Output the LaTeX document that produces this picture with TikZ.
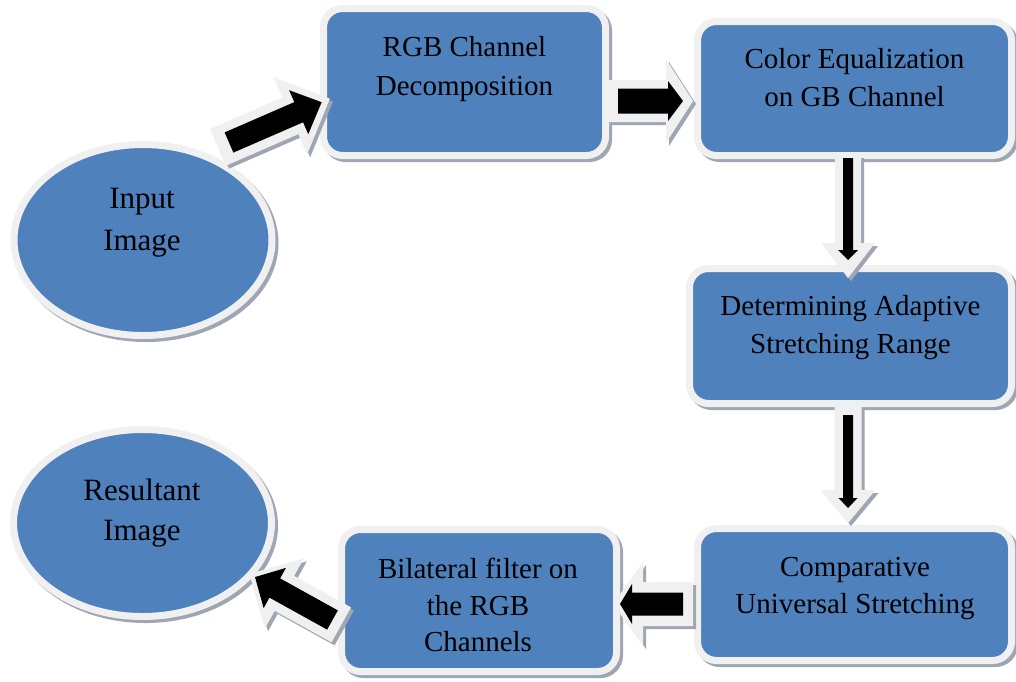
\documentclass[tikz,border=0pt]{standalone}
\usepackage{fontspec}
\setmainfont{Liberation Serif}
\usetikzlibrary{shapes.geometric}
\definecolor{myblue}{RGB}{79,129,189}
\definecolor{ghost}{RGB}{240,240,240}
\definecolor{shadowc}{RGB}{158,166,180}
\newcommand{\arrowshape}[5]{(#1,-#4) -- (#2,-#4) -- (#2,-#5) -- (#3,0) -- (#2,#5) -- (#2,#4) -- (#1,#4) -- cycle}
\newcommand{\blockarrow}[5]{%
  \begin{scope}[shift={(#1+3,#2+3)},rotate=#3]
    \fill[shadowc] \arrowshape#4;
  \end{scope}
  \begin{scope}[shift={(#1,#2)},rotate=#3]
    \fill[ghost] \arrowshape#4;
    \fill[black] \arrowshape#5;
  \end{scope}}
\tikzset{
  box/.style={rectangle, rounded corners=19pt, fill=myblue, draw=ghost, line width=7pt, inner sep=0pt,
    preaction={draw=shadowc, fill=shadowc, transform canvas={xshift=3pt,yshift=-3pt}}},
  oval/.style={ellipse, fill=myblue, draw=ghost, line width=7pt, inner sep=0pt,
    preaction={draw=shadowc, fill=shadowc, transform canvas={xshift=3pt,yshift=-3pt}}},
  txt/.style={font=\fontsize{29}{#1}\selectfont, anchor=base, inner sep=0pt},
  txt/.default=38.5,
  bigtxt/.style={font=\fontsize{31}{#1}\selectfont, anchor=base, inner sep=0pt},
  bigtxt/.default=41
}
\begin{document}
\begin{tikzpicture}[x=1pt,y=-1pt]
\fill[white] (0,0) rectangle (1016,681);
\useasboundingbox (0,0) rectangle (1016,681);

% shapes
\node[oval, minimum width=258pt, minimum height=191pt] (inp) at (143,240) {};
\node[oval, minimum width=258pt, minimum height=187pt] (res) at (142.5,523) {};
\node[box, minimum width=282pt, minimum height=147pt] (b1) at (464.5,82) {};
\node[box, minimum width=314pt, minimum height=134pt] (b2) at (854.5,88.5) {};
\node[box, minimum width=322pt, minimum height=135pt] (b3) at (850.5,336) {};
\node[box, minimum width=314pt, minimum height=132pt] (b4) at (854.5,594.5) {};
\node[box, minimum width=275pt, minimum height=142pt] (b5) at (479,600.5) {};

% texts
\node[bigtxt=41.7] (inpt) at (142,208.3) {\begin{tabular}[t]{@{}c@{}}Input\\Image\end{tabular}};
\node[bigtxt=40] (rest) at (142,500) {\begin{tabular}[t]{@{}c@{}}Resultant\\Image\end{tabular}};
\node[txt=38.5] (b1t) at (464.5,56.5) {\begin{tabular}[t]{@{}c@{}}RGB Channel\\Decomposition\end{tabular}};
\node[txt=38.4] (b2t) at (854.5,68.3) {\begin{tabular}[t]{@{}c@{}}Color Equalization\\on GB Channel\end{tabular}};
\node[txt=38] (b3t) at (850.5,315) {\begin{tabular}[t]{@{}c@{}}Determining Adaptive\\Stretching Range\end{tabular}};
\node[txt=36.6] (b4t) at (855,576.7) {\begin{tabular}[t]{@{}c@{}}Comparative\\Universal Stretching\end{tabular}};
\node[txt=36.7] (b5t) at (478,578.3) {\begin{tabular}[t]{@{}c@{}}Bilateral filter on\\the RGB\\Channels\end{tabular}};

% block arrows
\blockarrow{229}{142.5}{23.5}{{-12}{67}{110}{20}{42}}{{0}{76}{101}{11}{24}}
\blockarrow{609}{101}{0}{{0}{57}{84}{21}{42}}{{9}{59}{74}{12.5}{20}}
\blockarrow{848}{155}{-90}{{0}{88}{123}{13}{27}}{{3}{95}{105}{5}{10}}
\blockarrow{848}{406}{-90}{{0}{84}{117}{13.5}{27.5}}{{9}{92}{102}{5}{9.5}}
\blockarrow{693}{604}{180}{{0}{50}{80}{22}{42}}{{10}{61}{73}{11.5}{20}}
\blockarrow{332.5}{620}{151}{{-10}{55}{95}{20}{40}}{{0}{66}{88.6}{11}{23}}
\end{tikzpicture}
\end{document}
